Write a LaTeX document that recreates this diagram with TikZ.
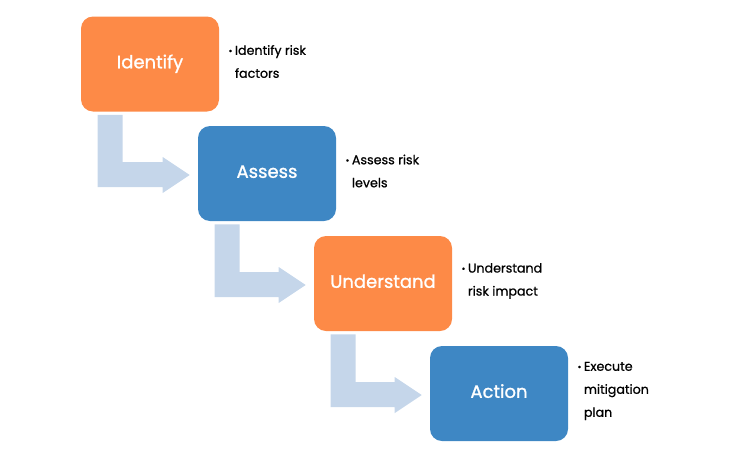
\documentclass[tikz,border=0pt]{standalone}
\usepackage{fontspec}
\setmainfont{Poppins}
\newfontfamily\labelfont{Poppins}[FakeBold=1.2]
\newfontfamily\notefont{Poppins}[FakeBold=0.8]
\usetikzlibrary{calc}
\definecolor{stepOrange}{RGB}{253,138,71}
\definecolor{stepBlue}{RGB}{62,135,196}
\definecolor{arrowBlue}{RGB}{197,214,234}
\newcommand{\bul}{\makebox[4.8pt][l]{\raisebox{0.5pt}{\scriptsize•}}}
\newcommand{\ind}{\hspace*{4.8pt}}

\begin{document}
\begin{tikzpicture}[x=0.75pt,y=-0.75pt,
        stepbox/.style={rounded corners=9pt, minimum width=103.5pt, minimum height=71.25pt, text height=9.5pt, text depth=3pt, text=white, font=\labelfont\fontsize{13.5}{15}\selectfont},
        note/.style={anchor=west, align=left, inner sep=0pt, font=\notefont\fontsize{9.5}{17.25}\selectfont}]
        \useasboundingbox (0,0) rectangle (745,457);
        \node[stepbox, fill=stepOrange] (1) at (150,64) {Identify};
        \node[stepbox, fill=stepBlue] (2) at (267,173.5) {Assess};
        \node[stepbox, fill=stepOrange] (3) at (383,283.5) {Understand};
        \node[stepbox, fill=stepBlue] (4) at (499,393.5) {Action};
        \node[note] (n1) at ($(1.east)+(9,-2.5)$) {\bul Identify risk\\\ind factors};
        \node[note] (n2) at ($(2.east)+(9,-2.5)$) {\bul Assess risk\\\ind levels};
        \node[note] (n3) at ($(3.east)+(9,-2.5)$) {\bul Understand\\\ind risk impact};
        \node[note] (n4) at ($(4.east)+(9,-2.5)$) {\bul Execute\\\ind mitigation\\\ind plan};
        \foreach \a/\b in {1/2,2/3,3/4}
            \fill[arrowBlue] let \p1=(\a.south west), \p2=(\b.west) in
                (\x1+12.75pt,\y1-2.25pt) -- (\x1+31.5pt,\y1-2.25pt) -- (\x1+31.5pt,\y2+8.625pt)
                -- (\x2-26.25pt,\y2+8.625pt) -- (\x2-26.25pt,\y2+12.375pt) -- (\x2-6pt,\y2-1.125pt)
                -- (\x2-26.25pt,\y2-14.625pt) -- (\x2-26.25pt,\y2-10.125pt) -- (\x1+12.75pt,\y2-10.125pt) -- cycle;
    \end{tikzpicture}
\end{document}
